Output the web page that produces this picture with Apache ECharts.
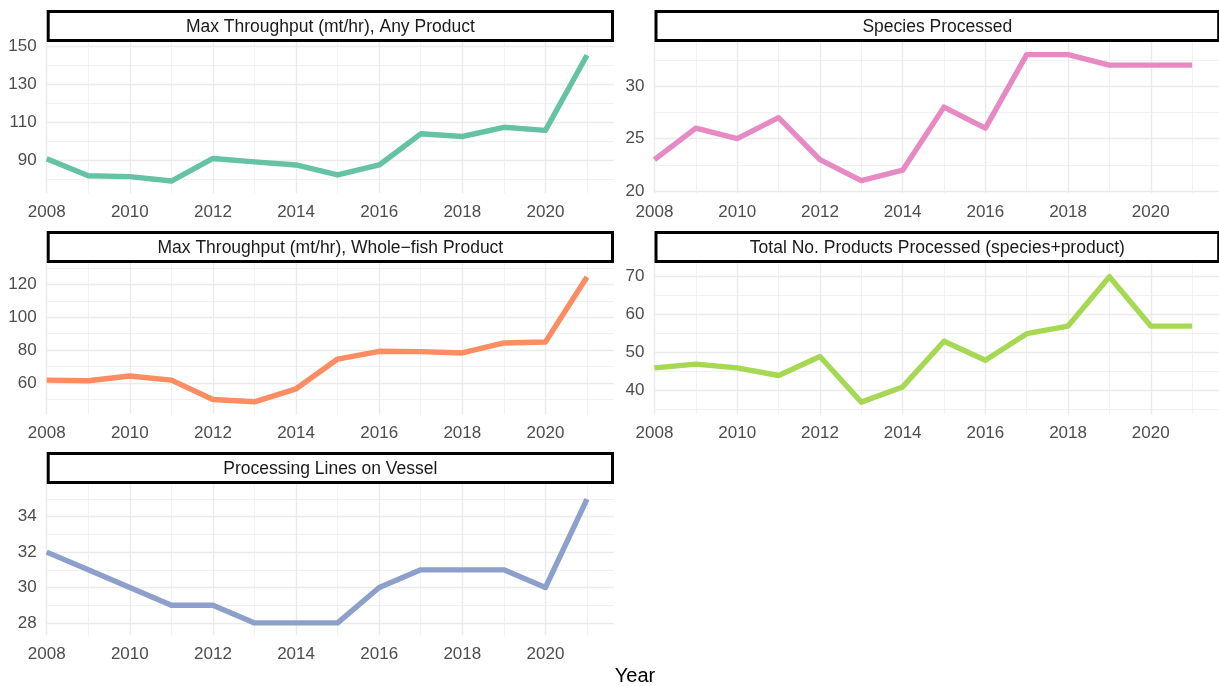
<!DOCTYPE html>
<html><head><meta charset="utf-8">
<script src="https://cdn.jsdelivr.net/npm/echarts@6/dist/echarts.min.js"></script>
<style>html,body{margin:0;padding:0;background:#fff}#c{width:1219px;height:686px}</style>
</head><body><div id="c"></div>
<script>
// ---- data ----
const years = [2008, 2009, 2010, 2011, 2012, 2013, 2014, 2015, 2016, 2017, 2018, 2019, 2020, 2021];
const maxThroughputAny = [91, 82.1, 81.6, 79.3, 91.1, 89.3, 87.7, 82.5, 87.7, 104, 102.6, 107.4, 105.8, 145.1];
const speciesProcessed = [23, 26, 25, 27, 23, 21, 22, 28, 26, 33, 33, 32, 32, 32];
const maxThroughputWhole = [61.8, 61.4, 64.3, 61.8, 50, 48.6, 56.5, 74.6, 79.3, 79.1, 78.3, 84.4, 85, 124.5];
const totalProducts = [46, 47, 46, 44, 49, 37, 41, 53, 48, 55, 57, 70, 57, 57];
const processingLines = [32, 31, 30, 29, 29, 28, 28, 28, 30, 31, 31, 31, 30, 35];

const panelTitles = [
  'Max Throughput (mt/hr), Any Product',
  'Species Processed',
  'Max Throughput (mt/hr), Whole\u2212fish Product',
  'Total No. Products Processed (species+product)',
  'Processing Lines on Vessel'
];
const xMajorTicks = [2008, 2010, 2012, 2014, 2016, 2018, 2020];
const xMinorTicks = [2009, 2011, 2013, 2015, 2017, 2019, 2021];
const yMajorTicks = [[90, 110, 130, 150], [20, 25, 30], [60, 80, 100, 120], [40, 50, 60, 70], [28, 30, 32, 34]];
const yMinorTicks = [[80, 100, 120, 140], [22.5, 27.5, 32.5], [50, 70, 90, 110, 130], [35, 45, 55, 65], [29, 31, 33, 35]];
const yLimits = [[72.9, 152], [19.8, 34.2], [41, 133], [33.8, 73.6], [27.3, 35.85]];
const xLimits = [2008, 2021.65];

// ---- layout / style ----
const FONT = '"Liberation Sans", Arial, Helvetica, sans-serif';
const colors = ['#66C2A5', '#E78AC3', '#FC8D62', '#A6D854', '#8DA0CB'];
const seriesValues = [maxThroughputAny, speciesProcessed, maxThroughputWhole, totalProducts, processingLines];
const colLeft = [46.7, 654.5];
const colWidth = [567.3, 567.4];
const rowTop = [42, 263, 484];
const panelH = 151.3;
const stripH = 32;

const grids = [], xAxes = [], yAxes = [], series = [], graphics = [];
for (let i = 0; i < 5; i++) {
  const col = i % 2, row = Math.floor(i / 2);
  grids.push({left: colLeft[col], top: rowTop[row], width: colWidth[col], height: panelH, containLabel: false});
  const xBase = {type: 'value', gridIndex: i, min: xLimits[0], max: xLimits[1],
    axisLine: {show: false}, axisPointer: {show: false}};
  xAxes.push(Object.assign({}, xBase, {
    axisTick: {show: false, customValues: xMajorTicks},
    axisLabel: {show: true, customValues: xMajorTicks, fontSize: 17, color: '#4d4d4d', fontFamily: FONT, margin: 10.5,
      formatter: v => String(v)},
    splitLine: {show: true, lineStyle: {color: '#ebebeb', width: 1.4}}
  }));
  xAxes.push(Object.assign({}, xBase, {
    axisTick: {show: false, customValues: xMinorTicks},
    axisLabel: {show: false, customValues: xMinorTicks},
    splitLine: {show: true, lineStyle: {color: '#ededed', width: 0.8}}
  }));
  const yBase = {type: 'value', gridIndex: i, min: yLimits[i][0], max: yLimits[i][1],
    axisLine: {show: false}, position: 'left'};
  yAxes.push(Object.assign({}, yBase, {
    axisTick: {show: false, customValues: yMajorTicks[i]},
    axisLabel: {show: true, customValues: yMajorTicks[i], fontSize: 17, color: '#4d4d4d', fontFamily: FONT, margin: 10,
      formatter: v => String(v)},
    splitLine: {show: true, lineStyle: {color: '#ebebeb', width: 1.4}}
  }));
  yAxes.push(Object.assign({}, yBase, {
    axisTick: {show: false, customValues: yMinorTicks[i]},
    axisLabel: {show: false, customValues: yMinorTicks[i]},
    splitLine: {show: true, lineStyle: {color: '#ededed', width: 0.8}}
  }));
  series.push({
    type: 'line', xAxisIndex: 2 * i, yAxisIndex: 2 * i,
    data: years.map((y, k) => [y, seriesValues[i][k]]),
    showSymbol: false, symbol: 'none', silent: true,
    lineStyle: {color: colors[i], width: 5.4, cap: 'butt', join: 'round'},
    z: 5
  });
  // strip
  const sx = colLeft[col] + 1.5;
  const sw = col === 0 ? 564.3 : 562.7;
  const sy = rowTop[row] - stripH + 1.5;
  graphics.push({type: 'rect', shape: {x: sx, y: sy, width: sw, height: stripH - 3},
    style: {fill: '#ffffff', stroke: '#000000', lineWidth: 3}, z: 10});
  graphics.push({type: 'text', x: sx + sw / 2, y: sy + (stripH - 3) / 2 + 1.5, z: 11,
    style: {text: panelTitles[i], fill: '#1a1a1a', font: '17.5px ' + FONT, align: 'center', verticalAlign: 'middle'}});
}
graphics.push({type: 'text', x: 635, y: 676, z: 11,
  style: {text: 'Year', fill: '#000000', font: '20px ' + FONT, align: 'center', verticalAlign: 'middle'}});

const chart = echarts.init(document.getElementById('c'), null, {renderer: 'canvas'});
chart.setOption({
  animation: false,
  backgroundColor: '#ffffff',
  grid: grids, xAxis: xAxes, yAxis: yAxes, series: series, graphic: graphics
});
</script></body></html>
